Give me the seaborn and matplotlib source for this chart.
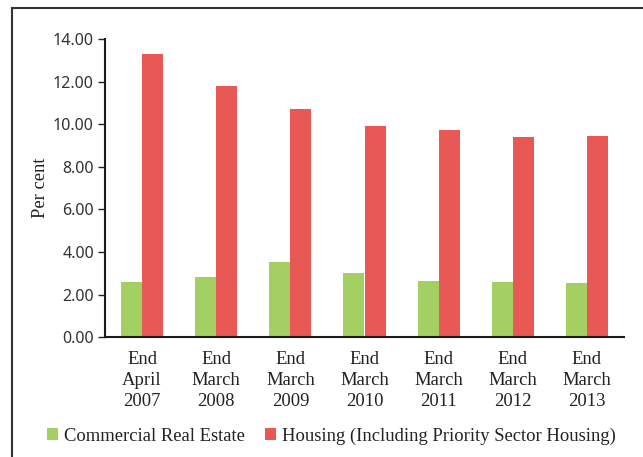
import matplotlib
matplotlib.use("Agg")
import matplotlib.pyplot as plt
import seaborn as sns
import pandas as pd
from matplotlib.patches import Rectangle

categories = ["End\nApril\n2007", "End\nMarch\n2008", "End\nMarch\n2009", "End\nMarch\n2010",
              "End\nMarch\n2011", "End\nMarch\n2012", "End\nMarch\n2013"]
commercial = [2.58, 2.85, 3.54, 3.00, 2.63, 2.60, 2.56]
housing = [13.29, 11.80, 10.73, 9.92, 9.73, 9.39, 9.45]
series_names = ["Commercial Real Estate", "Housing (Including Priority Sector Housing)"]
yticks = [0, 2, 4, 6, 8, 10, 12, 14]

df = pd.DataFrame({
    "cat": categories * 2,
    "val": commercial + housing,
    "series": [series_names[0]] * len(categories) + [series_names[1]] * len(categories),
})

sns.set_style("white")
serif = ["Liberation Serif", "DejaVu Serif"]
sans = ["Noto Sans", "DejaVu Sans"]

fig = plt.figure(figsize=(6.43, 4.57), dpi=100)
ax = fig.add_axes([105 / 643, 1 - 337.3 / 457, (624 - 105) / 643, (337.3 - 39) / 457])

palette = {series_names[0]: "#a4cf63", series_names[1]: "#e85855"}
sns.barplot(data=df, x="cat", y="val", hue="series", palette=palette, width=0.57,
            gap=0, saturation=1, edgecolor="none", linewidth=0, ax=ax, legend=True)

ax.set_ylim(0, 14)
ax.set_xlim(-0.5, len(categories) - 0.5)
ax.set_yticks(yticks)
ax.set_yticklabels([f"{v:.2f}" for v in yticks], fontfamily=sans, fontsize=11.5, color="#333333")
ax.set_xticks(range(len(categories)))
ax.set_xticklabels(categories, fontfamily=serif, fontsize=13.4, color="#222222", linespacing=1.3)
ax.set_xticks([i - 0.5 for i in range(len(categories) + 1)], minor=True)
ax.tick_params(axis="x", which="major", length=0, pad=10)
ax.tick_params(axis="x", which="minor", length=5, width=1, color="#222222", direction="out")
ax.tick_params(axis="y", which="major", length=5, width=1, color="#222222", direction="out", left=True, pad=3)

for s in ["top", "right"]:
    ax.spines[s].set_visible(False)
for s in ["left", "bottom"]:
    ax.spines[s].set_color("#1a1a1a")
    ax.spines[s].set_linewidth(1.5)

ax.set_xlabel("")
ax.set_ylabel("Per cent", fontfamily=serif, fontsize=13.4, color="#222222")
ax.yaxis.set_label_coords(-0.107, 0.5)

handles, labels = ax.get_legend_handles_labels()
ax.legend_.remove()
fig.legend(handles, labels, loc="center", bbox_to_anchor=(0.515, 1 - 436 / 457), ncol=2,
           frameon=False, prop={"family": serif, "size": 13.4}, handlelength=0.6,
           handleheight=0.6, handletextpad=0.3, columnspacing=1.1, labelcolor="#222222")

fig.add_artist(Rectangle((12 / 643, -0.1), 1.2, 1 - 8 / 457 + 0.1, transform=fig.transFigure,
                         fill=False, lw=1.5, ec="#333333"))

fig.savefig("out.png", dpi=100)
